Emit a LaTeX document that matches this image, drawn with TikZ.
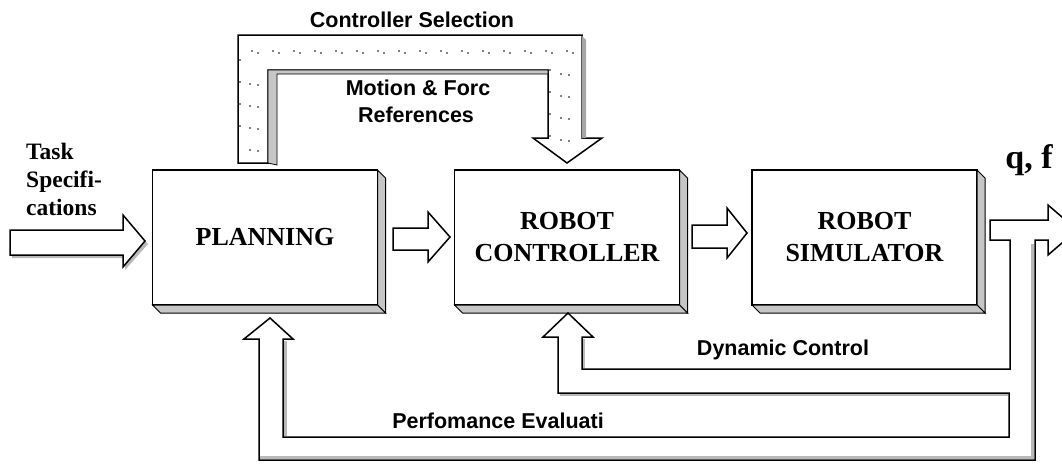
\documentclass[tikz,border=0pt]{standalone}
\usepackage{fontspec}
\setmainfont{Liberation Serif}
\newfontfamily\lsans{Liberation Sans}
\usetikzlibrary{calc}
\tikzset{
  ln/.style={line width=1.5pt, line join=miter},
  mainbox/.style={ln, draw, fill=white, minimum width=225pt, minimum height=135pt,
    inner sep=0pt, outer sep=0pt, align=center,
    font=\bfseries\fontsize{26}{32}\selectfont},
  depthface/.style={ln, line width=1pt, fill=gray!45},
  blockarrow/.style={ln, draw, fill=white},
  shadowfill/.style={fill=gray!55},
  lbl/.style={font=\lsans\bfseries\fontsize{21.5}{25}\selectfont, inner sep=0pt},
  serif lbl/.style={font=\bfseries\fontsize{23.5}{28}\selectfont, inner sep=0pt, align=left},
  dotc/.style={fill=black}
}
\begin{document}
\begin{tikzpicture}[x=1pt,y=-1pt]
\useasboundingbox (0,0) rectangle (1062,464);
\clip (0,0) rectangle (1062,464);

% ---- main boxes
\node[mainbox] (plan) at (265,237.5) {PLANNING};
\node[mainbox] (ctrl) at (567,237.5) {ROBOT\\CONTROLLER};
\node[mainbox] (sim)  at (864.5,237.5) {ROBOT\\SIMULATOR};
\foreach \n in {plan,ctrl,sim}{
  \filldraw[depthface] (\n.north east) -- ++(8,8) -- ($(\n.south east)+(8,8)$) -- (\n.south east) -- cycle;
  \filldraw[depthface] (\n.south west) -- ++(8,8) -- ($(\n.south east)+(8,8)$) -- (\n.south east) -- cycle;
}

% ---- controller selection channel (dotted)
\filldraw[ln, fill=white] (238,163) -- (238,35) -- (582,35) -- (582,138) -- (602,138)
  -- (567,163) -- (533,138) -- (548,138) -- (548,70) -- (268,70) -- (268,163) -- cycle;
\filldraw[depthface, line width=0.8pt] (268,70) -- (548,70) -- (548,74) -- (277,74) -- (277,165) -- (268,163) -- cycle;
\fill[gray!70] (582,36) -- (586,40) -- (586,138) -- (582,138) -- cycle;
\foreach \i in {0,...,15}{
  \fill[dotc] (252+21*\i,51) circle (0.9pt);
  \fill[dotc] (258+21*\i,53) circle (0.9pt);
}
\foreach \yy in {84,106,128,150}{
  \fill[dotc] (250,\yy) circle (0.9pt);
  \fill[dotc] (258,\yy+1) circle (0.9pt);
}
\foreach \yy in {84,106,128,150}{
  \fill[dotc] (561,\yy-10) circle (0.9pt);
  \fill[dotc] (569,\yy-9) circle (0.9pt);
}
\foreach \yy in {60,82,104,126}{
  \fill[dotc] (240,\yy) circle (0.8pt);
  \fill[dotc] (550,\yy+10) circle (0.8pt);
}

% ---- forward block arrows
\fill[shadowfill] (12,233) -- (125,233) -- (125,218) -- (148,244) -- (125,270) -- (125,258) -- (12,258) -- cycle;
\draw[blockarrow] (10,230) -- (123,230) -- (123,215) -- (145,241) -- (123,267) -- (123,255) -- (10,255) -- cycle;
\draw[blockarrow] (393,228) -- (428,228) -- (428,212) -- (450,237) -- (428,262) -- (428,250) -- (393,250) -- cycle;
\draw[blockarrow] (692,225) -- (727,225) -- (727,208) -- (747,233) -- (727,258) -- (727,248) -- (692,248) -- cycle;

% ---- output arrow with feedback channels
\filldraw[ln, fill=white] (1035,240) -- (1048,240) -- (1048,255) -- (1077,230) -- (1048,205)
  -- (1048,220) -- (990,220) -- (990,240) -- (1010,240) -- (1010,369) -- (582,369)
  -- (582,337) -- (593,337) -- (568,313) -- (543,337) -- (558,337) -- (558,393)
  -- (1009,393) -- (1009,437) -- (283,437) -- (283,339) -- (293,339) -- (270,318)
  -- (244,339) -- (259,339) -- (259,460) -- (1035,460) -- cycle;
\fill[gray!55] (284,341) rectangle (286.8,436);
\fill[gray!55] (1031.2,244) rectangle (1034,459);
\fill[gray!55] (583,339) rectangle (585.4,368);
\fill[gray!55] (560,394) rectangle (1008,396.4);
\fill[gray!55] (260,456) rectangle (1034,459);

% ---- labels
\node[lbl] (cs)  at (412,20)  {Controller Selection};
\node[lbl] (mf)  at (418,88)  {Motion \& Forc};
\node[lbl] (ref) at (416,115) {References};
\node[lbl] (dc)  at (783,350) {Dynamic Control};
\node[lbl] (pe)  at (498,421) {Perfomance Evaluati};
\node[serif lbl, anchor=west] (task) at (26,179) {Task\\Specifi-\\cations};
\node[font=\bfseries\fontsize{34}{40}\selectfont, inner sep=0pt] (qf) at (1029,160) {q, f};
\end{tikzpicture}
\end{document}
